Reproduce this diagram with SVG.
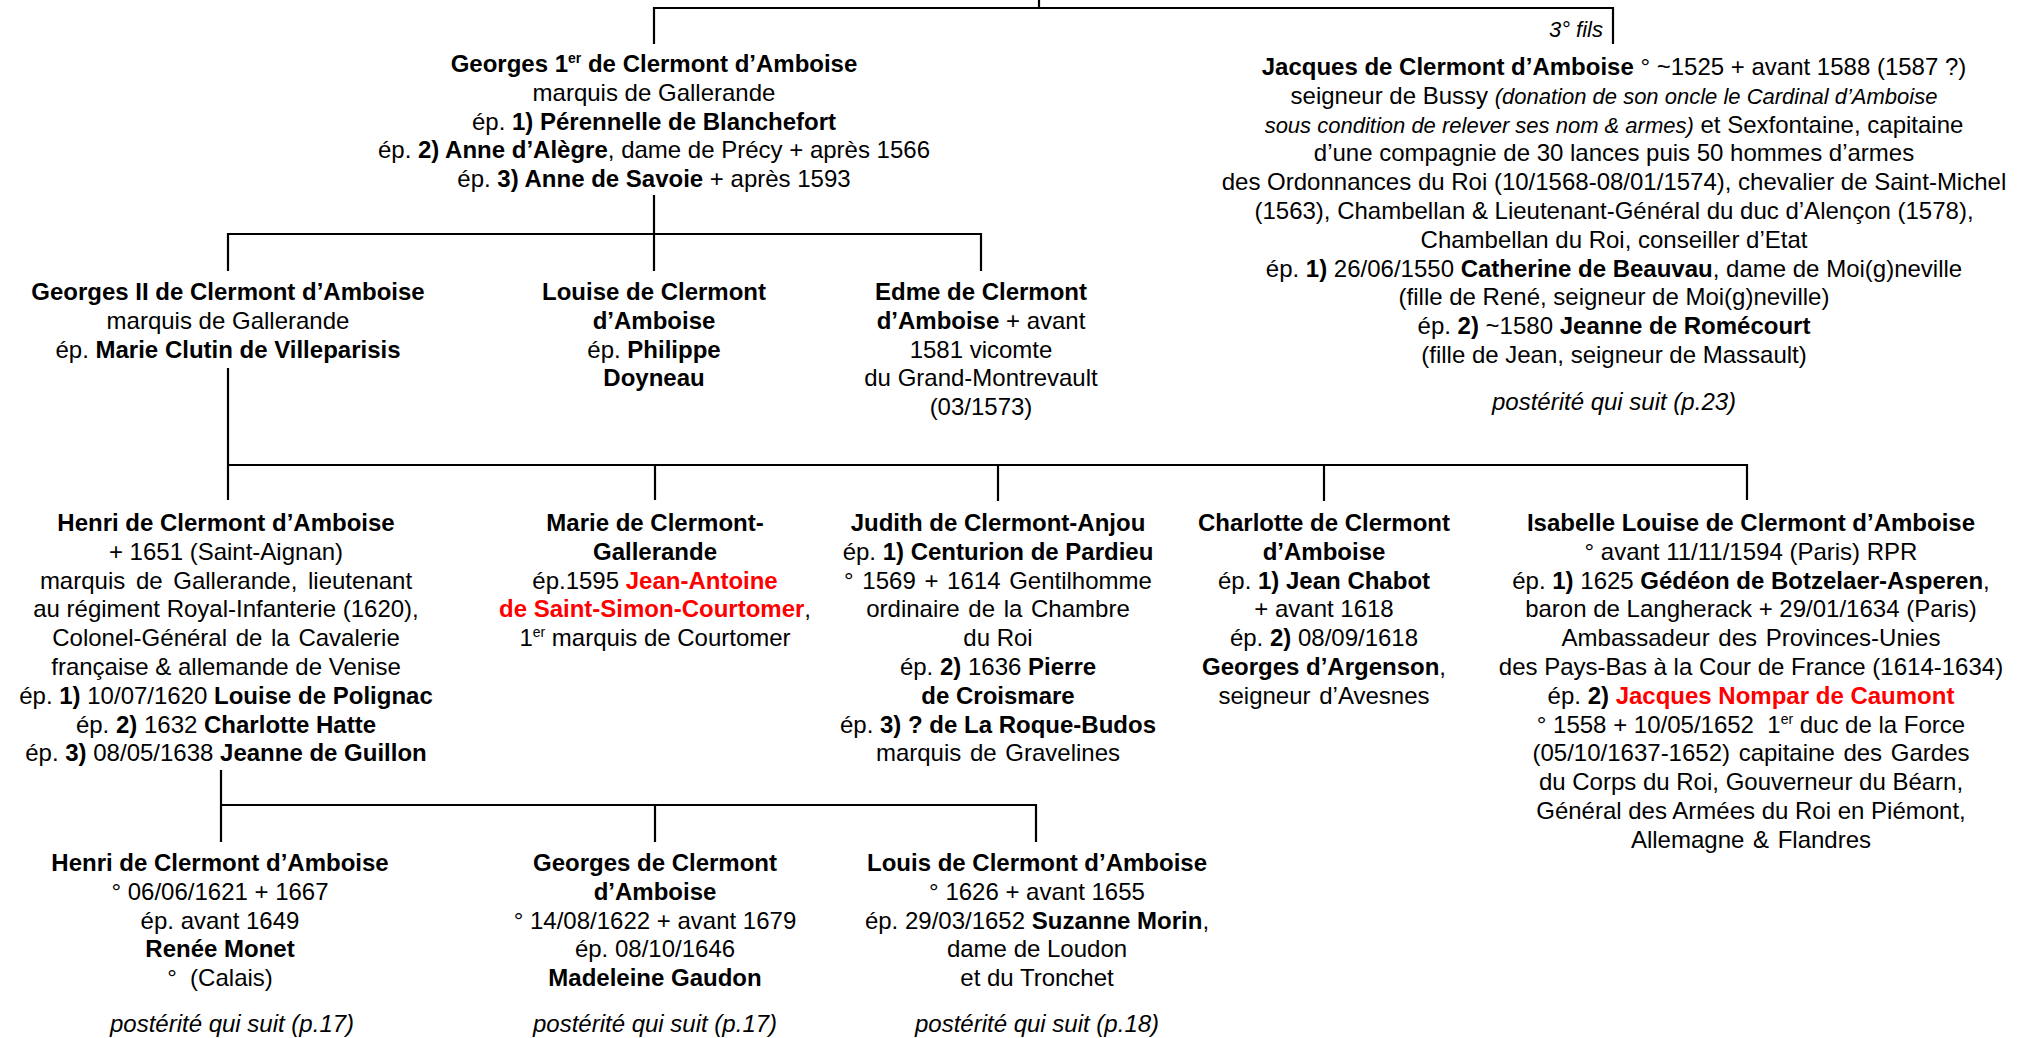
<svg xmlns="http://www.w3.org/2000/svg" width="2019" height="1038" viewBox="0 0 2019 1038">
<style>
.t{font-family:"Liberation Sans",Arial,sans-serif;font-size:24px;text-anchor:middle;fill:#000}
.b{font-weight:bold}
.i{font-style:italic}
.s{font-size:22px}
.r{fill:#ff0000;font-weight:bold}
.c{fill:none;stroke:#000;stroke-width:2.2}
</style>
<rect width="2019" height="1038" fill="#fff"/>
<g id="connectors" class="c">
<path d="M1039,0 V8"/>
<path d="M654,44 V8 H1613 V44"/>
<path d="M654,195 V271"/>
<path d="M228,271 V234 H981 V271"/>
<path d="M228,368 V500"/>
<path d="M228,465 H1747 V500"/>
<path d="M655,465 V500"/>
<path d="M998,465 V501"/>
<path d="M1324,465 V501"/>
<path d="M221,770 V842"/>
<path d="M221,805 H1036 V842"/>
<path d="M655,805 V842"/>
</g>
<g id="label-3fils"><text class="t i s" x="1603" y="37" style="text-anchor:end">3° fils</text></g>
<g id="georges1" class="t">
<text x="654" y="72" class="b">Georges 1<tspan font-size="14" dy="-9">er</tspan><tspan dy="9"> de Clermont d’Amboise</tspan></text>
<text x="654" y="100.8">marquis de Gallerande</text>
<text x="654" y="129.6">ép. <tspan class="b">1) Pérennelle de Blanchefort</tspan></text>
<text x="654" y="158.4">ép. <tspan class="b">2) Anne d’Alègre</tspan>, dame de Précy + après 1566</text>
<text x="654" y="187.2">ép. <tspan class="b">3) Anne de Savoie</tspan> + après 1593</text>
</g>
<g id="jacques" class="t">
<text x="1614" y="75"><tspan class="b">Jacques de Clermont d’Amboise</tspan> ° ~1525 + avant 1588 (1587 ?)</text>
<text x="1614" y="103.8">seigneur de Bussy <tspan class="i s">(donation de son oncle le Cardinal d’Amboise</tspan></text>
<text x="1614" y="132.6"><tspan class="i s">sous condition de relever ses nom &amp; armes)</tspan> et Sexfontaine, capitaine</text>
<text x="1614" y="161.4">d’une compagnie de 30 lances puis 50 hommes d’armes</text>
<text x="1614" y="190.2">des Ordonnances du Roi (10/1568-08/01/1574), chevalier de Saint-Michel</text>
<text x="1614" y="219">(1563), Chambellan &amp; Lieutenant-Général du duc d’Alençon (1578),</text>
<text x="1614" y="247.8">Chambellan du Roi, conseiller d’Etat</text>
<text x="1614" y="276.6">ép. <tspan class="b">1)</tspan> 26/06/1550 <tspan class="b">Catherine de Beauvau</tspan>, dame de Moi(g)neville</text>
<text x="1614" y="305.4">(fille de René, seigneur de Moi(g)neville)</text>
<text x="1614" y="334.2">ép. <tspan class="b">2)</tspan> ~1580 <tspan class="b">Jeanne de Romécourt</tspan></text>
<text x="1614" y="363">(fille de Jean, seigneur de Massault)</text>
<text x="1614" y="410" class="i">postérité qui suit (p.23)</text>
</g>
<g id="georges2" class="t">
<text x="228" y="300" class="b">Georges II de Clermont d’Amboise</text>
<text x="228" y="328.8">marquis de Gallerande</text>
<text x="228" y="357.6">ép. <tspan class="b">Marie Clutin de Villeparisis</tspan></text>
</g>
<g id="louise" class="t">
<text x="654" y="300" class="b">Louise de Clermont</text>
<text x="654" y="328.8" class="b">d’Amboise</text>
<text x="654" y="357.6">ép. <tspan class="b">Philippe</tspan></text>
<text x="654" y="386.4" class="b">Doyneau</text>
</g>
<g id="edme" class="t">
<text x="981" y="300" class="b">Edme de Clermont</text>
<text x="981" y="328.8"><tspan class="b">d’Amboise</tspan> + avant</text>
<text x="981" y="357.6">1581 vicomte</text>
<text x="981" y="386.4">du Grand-Montrevault</text>
<text x="981" y="415.2">(03/1573)</text>
</g>
<g id="henri1" class="t">
<text x="226" y="531" class="b">Henri de Clermont d’Amboise</text>
<text x="226" y="559.8">+ 1651 (Saint-Aignan)</text>
<text x="226" y="588.6" word-spacing="4">marquis de Gallerande, lieutenant</text>
<text x="226" y="617.4">au régiment Royal-Infanterie (1620),</text>
<text x="226" y="646.2" word-spacing="2">Colonel-Général de la Cavalerie</text>
<text x="226" y="675">française &amp; allemande de Venise</text>
<text x="226" y="703.8">ép. <tspan class="b">1)</tspan> 10/07/1620 <tspan class="b">Louise de Polignac</tspan></text>
<text x="226" y="732.6">ép. <tspan class="b">2)</tspan> 1632 <tspan class="b">Charlotte Hatte</tspan></text>
<text x="226" y="761.4">ép. <tspan class="b">3)</tspan> 08/05/1638 <tspan class="b">Jeanne de Guillon</tspan></text>
</g>
<g id="marie" class="t">
<text x="655" y="531" class="b">Marie de Clermont-</text>
<text x="655" y="559.8" class="b">Gallerande</text>
<text x="655" y="588.6">ép.1595 <tspan class="r">Jean-Antoine</tspan></text>
<text x="655" y="617.4"><tspan class="r">de Saint-Simon-Courtomer</tspan>,</text>
<text x="655" y="646.2">1<tspan font-size="14" dy="-9">er</tspan><tspan dy="9"> marquis de Courtomer</tspan></text>
</g>
<g id="judith" class="t">
<text x="998" y="531" class="b">Judith de Clermont-Anjou</text>
<text x="998" y="559.8">ép. <tspan class="b">1) Centurion de Pardieu</tspan></text>
<text x="998" y="588.6" word-spacing="2">° 1569 + 1614 Gentilhomme</text>
<text x="998" y="617.4" word-spacing="2">ordinaire de la Chambre</text>
<text x="998" y="646.2">du Roi</text>
<text x="998" y="675">ép. <tspan class="b">2)</tspan> 1636 <tspan class="b">Pierre</tspan></text>
<text x="998" y="703.8" class="b">de Croismare</text>
<text x="998" y="732.6">ép. <tspan class="b">3) ? de La Roque-Budos</tspan></text>
<text x="998" y="761.4" word-spacing="2">marquis de Gravelines</text>
</g>
<g id="charlotte" class="t">
<text x="1324" y="531" class="b">Charlotte de Clermont</text>
<text x="1324" y="559.8" class="b">d’Amboise</text>
<text x="1324" y="588.6">ép. <tspan class="b">1) Jean Chabot</tspan></text>
<text x="1324" y="617.4">+ avant 1618</text>
<text x="1324" y="646.2">ép. <tspan class="b">2)</tspan> 08/09/1618</text>
<text x="1324" y="675"><tspan class="b">Georges d’Argenson</tspan>,</text>
<text x="1324" y="703.8" word-spacing="2">seigneur d’Avesnes</text>
</g>
<g id="isabelle" class="t">
<text x="1751" y="531" class="b">Isabelle Louise de Clermont d’Amboise</text>
<text x="1751" y="559.8">° avant 11/11/1594 (Paris) RPR</text>
<text x="1751" y="588.6">ép. <tspan class="b">1)</tspan> 1625 <tspan class="b">Gédéon de Botzelaer-Asperen</tspan>,</text>
<text x="1751" y="617.4">baron de Langherack + 29/01/1634 (Paris)</text>
<text x="1751" y="646.2" word-spacing="2">Ambassadeur des Provinces-Unies</text>
<text x="1751" y="675">des Pays-Bas à la Cour de France (1614-1634)</text>
<text x="1751" y="703.8">ép. <tspan class="b">2)</tspan> <tspan class="r">Jacques Nompar de Caumont</tspan></text>
<text x="1751" y="732.6">° 1558 + 10/05/1652 &#160;1<tspan font-size="14" dy="-9">er</tspan><tspan dy="9"> duc de la Force</tspan></text>
<text x="1751" y="761.4" word-spacing="2">(05/10/1637-1652) capitaine des Gardes</text>
<text x="1751" y="790.2">du Corps du Roi, Gouverneur du Béarn,</text>
<text x="1751" y="819">Général des Armées du Roi en Piémont,</text>
<text x="1751" y="847.8" word-spacing="2">Allemagne &amp; Flandres</text>
</g>
<g id="henri2" class="t">
<text x="220" y="871" class="b">Henri de Clermont d’Amboise</text>
<text x="220" y="899.8">° 06/06/1621 + 1667</text>
<text x="220" y="928.6">ép. avant 1649</text>
<text x="220" y="957.4" class="b">Renée Monet</text>
<text x="220" y="986.2">° &#160;(Calais)</text>
<text x="232" y="1032" class="i">postérité qui suit (p.17)</text>
</g>
<g id="georges3" class="t">
<text x="655" y="871" class="b">Georges de Clermont</text>
<text x="655" y="899.8" class="b">d’Amboise</text>
<text x="655" y="928.6">° 14/08/1622 + avant 1679</text>
<text x="655" y="957.4">ép. 08/10/1646</text>
<text x="655" y="986.2" class="b">Madeleine Gaudon</text>
<text x="655" y="1032" class="i">postérité qui suit (p.17)</text>
</g>
<g id="louis" class="t">
<text x="1037" y="871" class="b">Louis de Clermont d’Amboise</text>
<text x="1037" y="899.8">° 1626 + avant 1655</text>
<text x="1037" y="928.6">ép. 29/03/1652 <tspan class="b">Suzanne Morin</tspan>,</text>
<text x="1037" y="957.4">dame de Loudon</text>
<text x="1037" y="986.2">et du Tronchet</text>
<text x="1037" y="1032" class="i">postérité qui suit (p.18)</text>
</g>
</svg>
